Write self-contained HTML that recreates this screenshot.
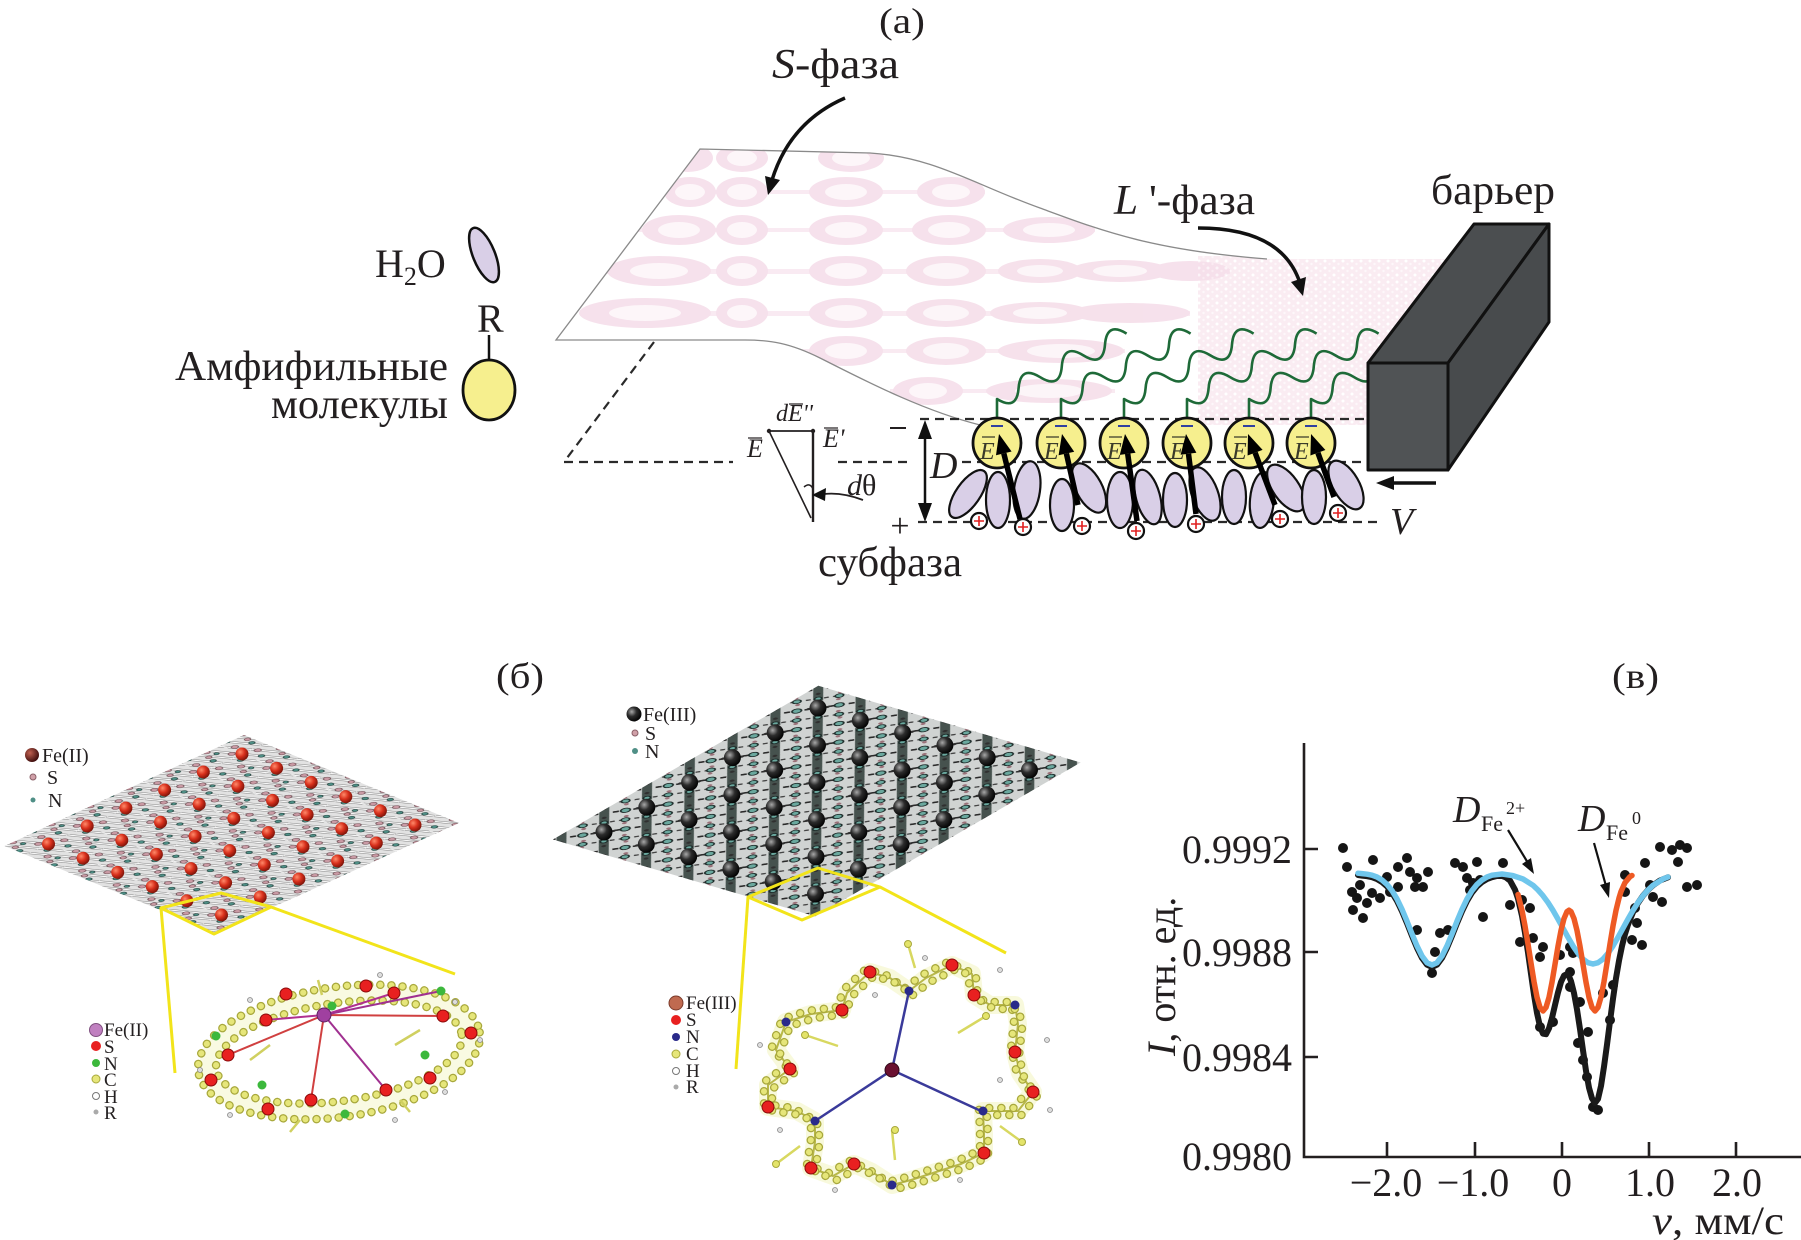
<!DOCTYPE html>
<html><head><meta charset="utf-8"><style>html,body{margin:0;padding:0;background:#fff}svg{display:block}</style></head>
<body>
<svg width="1801" height="1240" viewBox="0 0 1801 1240" xmlns="http://www.w3.org/2000/svg" font-family="'Liberation Serif','DejaVu Serif',serif" fill="#231f20">
<defs>
<radialGradient id="gb" cx="35%" cy="35%" r="70%"><stop offset="0" stop-color="#a8a8a8"/><stop offset="0.45" stop-color="#2c2c2c"/><stop offset="1" stop-color="#000"/></radialGradient>
<radialGradient id="gr" cx="35%" cy="35%" r="70%"><stop offset="0" stop-color="#ff8a6a"/><stop offset="0.5" stop-color="#d8301c"/><stop offset="1" stop-color="#7a1208"/></radialGradient>
<radialGradient id="gd" cx="35%" cy="35%" r="70%"><stop offset="0" stop-color="#c06050"/><stop offset="1" stop-color="#3a0a0a"/></radialGradient>
<clipPath id="sheetclip"><path d="M700,149 L870,153 C935,157 975,185 1040,208 C1100,230 1150,250 1267,259 L1445,259 L1445,425 L980,425 C920,410 860,378 820,358 C790,343 770,340 745,340 L556,340 Z"/></clipPath>
<pattern id="spk" width="9" height="7" patternUnits="userSpaceOnUse"><rect width="9" height="7" fill="#f6e0ea"/><circle cx="2" cy="2" r="1.5" fill="#fff"/><circle cx="6.5" cy="5" r="1.2" fill="#fcf2f6"/></pattern>
<pattern id="lp" patternUnits="userSpaceOnUse" width="100" height="100" patternTransform="matrix(0.387,-0.18,0.346,0.142,48.5,844)">
<g stroke="#8e8e8e" stroke-width="9" fill="none"><path d="M0,0 L50,100 M50,0 L100,100 M25,0 L75,100 M75,0 L100,50 M0,50 L25,100"/></g>
<g stroke="#f8f8f8" stroke-width="4.5" fill="none"><path d="M0,0 L50,100 M50,0 L100,100 M25,0 L75,100 M75,0 L100,50 M0,50 L25,100"/></g>
<g fill="#c99aa4" stroke="#6a4a50" stroke-width="2"><circle cx="30" cy="12" r="7"/><circle cx="62" cy="40" r="7"/><circle cx="12" cy="66" r="7"/><circle cx="88" cy="84" r="7"/><circle cx="50" cy="60" r="6"/></g>
<g fill="#4f8f86" stroke="#1f3f3a" stroke-width="2"><circle cx="45" cy="78" r="6"/><circle cx="80" cy="18" r="6"/><circle cx="18" cy="36" r="6"/><circle cx="70" cy="60" r="5"/></g>
</pattern>
<pattern id="mp" patternUnits="userSpaceOnUse" width="100" height="100" patternTransform="matrix(0.428,-0.248,0.423,0.124,604,832)">
<path d="M0,0 L100,100" stroke="#2a2a2a" stroke-width="6" stroke-dasharray="10 7" fill="none"/>
<path d="M0,50 L50,100 M50,0 L100,50" stroke="#444" stroke-width="5" stroke-dasharray="8 7" fill="none"/>
<polygon points="75.5,12.7 83.3,28.5 24.5,87.3 16.7,71.5" fill="#46524e"/>
<g fill="#6aa89e" stroke="#1c2a28" stroke-width="3"><circle cx="25" cy="25" r="8"/><circle cx="75" cy="75" r="8"/><circle cx="25" cy="75" r="6"/><circle cx="75" cy="25" r="6"/><circle cx="0" cy="50" r="7"/><circle cx="50" cy="0" r="7"/><circle cx="100" cy="50" r="7"/><circle cx="50" cy="100" r="7"/></g>
<g fill="#303030"><circle cx="88" cy="12" r="5"/><circle cx="12" cy="88" r="5"/><circle cx="62" cy="38" r="4"/><circle cx="38" cy="62" r="4"/><circle cx="10" cy="12" r="4"/><circle cx="90" cy="88" r="4"/></g>
<g fill="#9a7078"><circle cx="40" cy="8" r="4"/><circle cx="8" cy="40" r="4"/><circle cx="60" cy="92" r="4"/><circle cx="92" cy="60" r="4"/></g>
</pattern>
</defs>
<rect width="1801" height="1240" fill="#fff"/>

<!-- ===== Panel (a) ===== -->
<g clip-path="url(#sheetclip)">
<g opacity="0.55">
<g fill="#f5d9e7">
<rect x="640" y="190" width="345" height="4"/><rect x="630" y="228" width="465" height="4"/><rect x="600" y="269" width="630" height="5"/><rect x="580" y="311" width="610" height="5"/><rect x="800" y="349" width="325" height="4"/><rect x="890" y="389" width="225" height="4"/>
</g>
<g fill="#efc9dc">
<ellipse cx="688" cy="158" rx="25" ry="14"/><ellipse cx="742" cy="158" rx="26" ry="14"/><ellipse cx="851" cy="158" rx="33" ry="14"/>
<ellipse cx="690" cy="192" rx="26" ry="15"/><ellipse cx="742" cy="192" rx="26" ry="15"/><ellipse cx="846" cy="192" rx="37" ry="15"/><ellipse cx="951" cy="192" rx="34" ry="15"/>
<ellipse cx="679" cy="230" rx="37" ry="15"/><ellipse cx="742" cy="230" rx="26" ry="15"/><ellipse cx="846" cy="230" rx="37" ry="15"/><ellipse cx="949" cy="230" rx="37" ry="15"/><ellipse cx="1049" cy="230" rx="46" ry="13"/>
<ellipse cx="659" cy="271" rx="52" ry="15"/><ellipse cx="742" cy="271" rx="26" ry="15"/><ellipse cx="846" cy="271" rx="37" ry="15"/><ellipse cx="946" cy="271" rx="40" ry="15"/><ellipse cx="1040" cy="271" rx="42" ry="12"/><ellipse cx="1120" cy="271" rx="50" ry="11"/><ellipse cx="1190" cy="271" rx="40" ry="10"/>
<ellipse cx="645" cy="313" rx="66" ry="15"/><ellipse cx="742" cy="313" rx="26" ry="15"/><ellipse cx="846" cy="313" rx="37" ry="15"/><ellipse cx="946" cy="313" rx="40" ry="14"/><ellipse cx="1040" cy="313" rx="50" ry="11"/><ellipse cx="1130" cy="313" rx="60" ry="10"/>
<ellipse cx="846" cy="351" rx="37" ry="15"/><ellipse cx="946" cy="351" rx="40" ry="14"/><ellipse cx="1061" cy="351" rx="63" ry="12"/>
<ellipse cx="928" cy="391" rx="35" ry="14"/><ellipse cx="1049" cy="391" rx="63" ry="12"/>
</g>
<g fill="#fbeef4">
<ellipse cx="742" cy="158" rx="15" ry="8"/><ellipse cx="851" cy="158" rx="19" ry="8"/>
<ellipse cx="690" cy="192" rx="15" ry="8"/><ellipse cx="742" cy="192" rx="15" ry="8"/><ellipse cx="846" cy="192" rx="21" ry="8"/><ellipse cx="951" cy="192" rx="19" ry="8"/>
<ellipse cx="679" cy="230" rx="21" ry="8"/><ellipse cx="742" cy="230" rx="15" ry="8"/><ellipse cx="846" cy="230" rx="21" ry="8"/><ellipse cx="949" cy="230" rx="21" ry="8"/><ellipse cx="1049" cy="230" rx="26" ry="7"/>
<ellipse cx="659" cy="271" rx="29" ry="8"/><ellipse cx="742" cy="271" rx="15" ry="8"/><ellipse cx="846" cy="271" rx="21" ry="8"/><ellipse cx="946" cy="271" rx="23" ry="8"/><ellipse cx="1040" cy="271" rx="23" ry="6"/><ellipse cx="1120" cy="271" rx="27" ry="6"/>
<ellipse cx="645" cy="313" rx="36" ry="8"/><ellipse cx="742" cy="313" rx="15" ry="8"/><ellipse cx="846" cy="313" rx="21" ry="8"/><ellipse cx="946" cy="313" rx="23" ry="8"/><ellipse cx="1040" cy="313" rx="27" ry="6"/>
<ellipse cx="846" cy="351" rx="21" ry="8"/><ellipse cx="946" cy="351" rx="23" ry="8"/><ellipse cx="1061" cy="351" rx="34" ry="7"/>
<ellipse cx="928" cy="391" rx="19" ry="8"/><ellipse cx="1049" cy="391" rx="34" ry="7"/>
</g>
</g>
<rect x="1198" y="256" width="250" height="170" fill="url(#spk)" opacity="0.6"/>
</g>
<path d="M1267,259 C1150,250 1100,230 1040,208 C975,185 935,157 870,153 L700,149 L556,340 L745,340 C770,340 790,343 820,358 C860,378 920,410 980,425" fill="none" stroke="#8a8a8a" stroke-width="1.3"/>

<!-- dashed lines -->
<g stroke="#2a2a2a" stroke-width="2.2" stroke-dasharray="9 6" fill="none">
<path d="M654,342 L564,462 L733,462"/>
<path d="M838,462 L908,462"/>
<path d="M962,462 L1367,462"/>
<path d="M920,419 L1367,419"/>
<path d="M918,522 L1377,522"/>
</g>

<!-- arrows S and L -->
<path d="M845,98 Q790,122 772,180" fill="none" stroke="#111" stroke-width="3.5"/>
<polygon points="768,195 780,180 765,176" fill="#111"/>
<path d="M1198,228 Q1282,228 1300,283" fill="none" stroke="#111" stroke-width="3.5"/>
<polygon points="1303,296 1306,277 1291,282" fill="#111"/>

<!-- tails -->
<g fill="none" stroke="#1e6a38" stroke-width="2.6" stroke-linejoin="round">
<path d="M997,419 v-20 q19.8,12.3 21.6,-10.9 t21.6,-10.9 t21.6,-10.9 t21.6,-10.9 t21.6,-10.9 t21.6,-10.9"/>
<path d="M1061,419 v-20 q19.8,12.3 21.6,-10.9 t21.6,-10.9 t21.6,-10.9 t21.6,-10.9 t21.6,-10.9 t21.6,-10.9"/>
<path d="M1124,419 v-20 q19.8,12.3 21.6,-10.9 t21.6,-10.9 t21.6,-10.9 t21.6,-10.9 t21.6,-10.9 t21.6,-10.9"/>
<path d="M1187,419 v-20 q19.8,12.3 21.6,-10.9 t21.6,-10.9 t21.6,-10.9 t21.6,-10.9 t21.6,-10.9 t21.6,-10.9"/>
<path d="M1249,419 v-20 q19.8,12.3 21.6,-10.9 t21.6,-10.9 t21.6,-10.9 t21.6,-10.9 t21.6,-10.9 t21.6,-10.9"/>
<path d="M1311,419 v-20 q19.8,12.3 21.6,-10.9 t21.6,-10.9 t21.6,-10.9 t21.6,-10.9 t21.6,-10.9 t21.6,-10.9"/>
</g>

<!-- water ellipses -->
<g fill="#d9cfe7" stroke="#111" stroke-width="2.2">
<ellipse cx="968" cy="494" rx="12" ry="28" transform="rotate(35 968 494)"/>
<ellipse cx="998" cy="500" rx="12" ry="28"/>
<ellipse cx="1027" cy="490" rx="13" ry="29" transform="rotate(8 1027 490)"/>
<ellipse cx="1062" cy="505" rx="12" ry="26"/>
<ellipse cx="1089" cy="488" rx="13" ry="27" transform="rotate(-28 1089 488)"/>
<ellipse cx="1120" cy="500" rx="13" ry="28"/>
<ellipse cx="1148" cy="497" rx="12" ry="28" transform="rotate(-15 1148 497)"/>
<ellipse cx="1175" cy="500" rx="12" ry="27"/>
<ellipse cx="1205" cy="494" rx="13" ry="28" transform="rotate(-20 1205 494)"/>
<ellipse cx="1234" cy="497" rx="12" ry="27"/>
<ellipse cx="1262" cy="500" rx="12" ry="28" transform="rotate(5 1262 500)"/>
<ellipse cx="1286" cy="488" rx="13" ry="27" transform="rotate(-35 1286 488)"/>
<ellipse cx="1314" cy="497" rx="12" ry="27"/>
<ellipse cx="1346" cy="485" rx="13" ry="27" transform="rotate(-30 1346 485)"/>
</g>

<!-- heads -->
<g fill="#f6ef8e" stroke="#111" stroke-width="2.8">
<ellipse cx="997" cy="443" rx="24" ry="25"/><ellipse cx="1061" cy="443" rx="24" ry="25"/><ellipse cx="1124" cy="443" rx="24" ry="25"/><ellipse cx="1187" cy="443" rx="24" ry="25"/><ellipse cx="1249" cy="443" rx="24" ry="25"/><ellipse cx="1311" cy="443" rx="24" ry="25"/>
</g>
<g stroke="#3040a0" stroke-width="2"><path d="M991,426h12M1055,426h12M1118,426h12M1181,426h12M1243,426h12M1305,426h12"/></g>
<g font-size="24" font-style="italic" fill="#3a3a2a">
<text x="980" y="459">E</text><text x="1044" y="459">E</text><text x="1107" y="459">E</text><text x="1170" y="459">E</text><text x="1232" y="459">E</text><text x="1294" y="459">E</text>
</g>
<g stroke="#3a3a2a" stroke-width="1.3"><path d="M982,437h13M1046,437h13M1109,437h13M1172,437h13M1234,437h13M1296,437h13"/></g>

<!-- cations -->
<g fill="#fff" stroke="#111" stroke-width="2.2">
<circle cx="979" cy="521" r="8"/><circle cx="1023" cy="527" r="8"/><circle cx="1082" cy="526" r="8"/><circle cx="1136" cy="531" r="8"/><circle cx="1196" cy="524" r="8"/><circle cx="1280" cy="519" r="8"/><circle cx="1338" cy="513" r="8"/>
</g>
<g stroke="#e02020" stroke-width="1.6">
<path d="M974,521h10M979,516v10M1018,527h10M1023,522v10M1077,526h10M1082,521v10M1131,531h10M1136,526v10M1191,524h10M1196,519v10M1275,519h10M1280,514v10M1333,513h10M1338,508v10"/>
</g>

<!-- dipole arrows -->
<g stroke="#000" stroke-width="5.5" stroke-linecap="butt">
<line x1="1020" y1="519" x2="1003.8" y2="453.4"/>
<line x1="1078" y1="505" x2="1066.4" y2="453.5"/>
<line x1="1137" y1="521" x2="1127.7" y2="453.8"/>
<line x1="1196" y1="514" x2="1188.5" y2="453.8"/>
<line x1="1275" y1="505" x2="1255.1" y2="452.7"/>
<line x1="1334" y1="497" x2="1317.9" y2="452.8"/>
</g>
<g fill="#000">
<polygon points="999,434 1011.6,451.5 996,455.3"/>
<polygon points="1062,434 1074.2,451.7 1058.6,455.3"/>
<polygon points="1125,434 1135.6,452.7 1119.8,454.9"/>
<polygon points="1186,434 1196.4,452.8 1180.6,454.8"/>
<polygon points="1248,434 1262.6,449.9 1247.6,455.5"/>
<polygon points="1311,434 1325.4,450 1310.4,455.5"/>
</g>

<!-- barrier -->
<g fill="#4e5153" stroke="#111" stroke-width="3" stroke-linejoin="round">
<path d="M1368,363 L1474,224 L1549,224 L1448,363 Z" fill="#4b4e50"/>
<path d="M1448,363 L1549,224 L1549,322 L1448,470 Z" fill="#484b4d"/>
<path d="M1368,363 L1448,363 L1448,470 L1368,470 Z" fill="#505355"/>
</g>

<!-- V arrow -->
<line x1="1436" y1="483" x2="1392" y2="483" stroke="#111" stroke-width="3.5"/>
<polygon points="1376,483 1394,476 1394,490" fill="#111"/>

<!-- D arrow -->
<line x1="925" y1="436" x2="925" y2="505" stroke="#111" stroke-width="2.5"/>
<polygon points="925,420 918,439 932,439" fill="#111"/>
<polygon points="925,522 918,503 932,503" fill="#111"/>
<line x1="890" y1="428" x2="906" y2="428" stroke="#231f20" stroke-width="2"/>

<!-- triangle -->
<g stroke="#231f20" fill="none">
<line x1="769" y1="431" x2="813" y2="431" stroke-width="1.8"/>
<line x1="813" y1="431" x2="813" y2="522" stroke-width="2.4"/>
<line x1="769" y1="431" x2="811" y2="518" stroke-width="1.6"/>
<path d="M804,487 Q810,482 813,489" stroke-width="1.5"/>
<path d="M863,500 Q842,492 824,494" stroke-width="1.8"/>
<line x1="789" y1="404" x2="803" y2="404" stroke-width="1.2"/>
<line x1="824" y1="428" x2="838" y2="428" stroke-width="1.2"/>
<line x1="748" y1="438" x2="762" y2="438" stroke-width="1.2"/>
</g>
<circle cx="769" cy="431" r="2.2"/><circle cx="813" cy="431" r="2.2"/>
<polygon points="812,495 826,488 825,501" fill="#111"/>

<!-- texts (a) -->
<text x="879" y="33" font-size="36" textLength="46" lengthAdjust="spacingAndGlyphs">(а)</text>
<text x="772" y="78" font-size="42" textLength="127" lengthAdjust="spacingAndGlyphs"><tspan font-style="italic">S</tspan>-фаза</text>
<text x="1114" y="214" font-size="42" textLength="141" lengthAdjust="spacingAndGlyphs"><tspan font-style="italic">L</tspan> '-фаза</text>
<text x="1431" y="204" font-size="42" textLength="124" lengthAdjust="spacingAndGlyphs">барьер</text>
<text x="375" y="277" font-size="40">H<tspan font-size="26" dy="8">2</tspan><tspan dy="-8">O</tspan></text>
<ellipse cx="484" cy="255" rx="11" ry="29" fill="#d9cfe7" stroke="#111" stroke-width="2.5" transform="rotate(-22 484 255)"/>
<text x="477" y="332" font-size="40">R</text>
<line x1="489" y1="335" x2="489" y2="361" stroke="#111" stroke-width="2.5"/>
<ellipse cx="489" cy="390" rx="26" ry="30" fill="#f6ef8e" stroke="#111" stroke-width="2.8"/>
<text x="448" y="380" font-size="42" text-anchor="end" textLength="273" lengthAdjust="spacingAndGlyphs">Амфифильные</text>
<text x="448" y="418" font-size="42" text-anchor="end" textLength="177" lengthAdjust="spacingAndGlyphs">молекулы</text>
<text x="818" y="576" font-size="42" textLength="144" lengthAdjust="spacingAndGlyphs">субфаза</text>
<text x="930" y="478" font-size="38" font-style="italic">D</text>
<text x="1390" y="534" font-size="38" font-style="italic">V</text>
<text x="900" y="537" font-size="34" text-anchor="middle">+</text>
<text x="776" y="421" font-size="24" font-style="italic">dE''</text>
<text x="823" y="447" font-size="26" font-style="italic">E'</text>
<text x="747" y="457" font-size="26" font-style="italic">E</text>
<text x="847" y="495" font-size="30"><tspan font-style="italic">d</tspan>θ</text>

<!-- ===== Panel (б) ===== -->
<text x="496" y="688" font-size="36" textLength="48" lengthAdjust="spacingAndGlyphs">(б)</text>

<!-- left lattice -->
<polygon points="4.5,846 244,735 459,823 216,933" fill="#e2e2e2"/>
<polygon points="4.5,846 244,735 459,823 216,933" fill="url(#lp)"/>
<g fill="url(#gr)">
<circle cx="48.5" cy="844" r="6.5"/><circle cx="87.2" cy="826" r="6.5"/><circle cx="125.9" cy="808" r="6.5"/><circle cx="164.6" cy="790" r="6.5"/><circle cx="203.3" cy="772" r="6.5"/><circle cx="242" cy="754" r="6.5"/>
<circle cx="83.1" cy="858.2" r="6.5"/><circle cx="121.8" cy="840.2" r="6.5"/><circle cx="160.5" cy="822.2" r="6.5"/><circle cx="199.2" cy="804.2" r="6.5"/><circle cx="237.9" cy="786.2" r="6.5"/><circle cx="276.6" cy="768.2" r="6.5"/>
<circle cx="117.7" cy="872.4" r="6.5"/><circle cx="156.4" cy="854.4" r="6.5"/><circle cx="195.1" cy="836.4" r="6.5"/><circle cx="233.8" cy="818.4" r="6.5"/><circle cx="272.5" cy="800.4" r="6.5"/><circle cx="311.2" cy="782.4" r="6.5"/>
<circle cx="152.3" cy="886.6" r="6.5"/><circle cx="191" cy="868.6" r="6.5"/><circle cx="229.7" cy="850.6" r="6.5"/><circle cx="268.4" cy="832.6" r="6.5"/><circle cx="307.1" cy="814.6" r="6.5"/><circle cx="345.8" cy="796.6" r="6.5"/>
<circle cx="186.9" cy="900.8" r="6.5"/><circle cx="225.6" cy="882.8" r="6.5"/><circle cx="264.3" cy="864.8" r="6.5"/><circle cx="303" cy="846.8" r="6.5"/><circle cx="341.7" cy="828.8" r="6.5"/><circle cx="380.4" cy="810.8" r="6.5"/>
<circle cx="221.5" cy="915" r="6.5"/><circle cx="260.2" cy="897" r="6.5"/><circle cx="298.9" cy="879" r="6.5"/><circle cx="337.6" cy="861" r="6.5"/><circle cx="376.3" cy="843" r="6.5"/><circle cx="415" cy="825" r="6.5"/>
</g>
<circle cx="32" cy="755" r="7" fill="url(#gd)"/>
<text x="42" y="762" font-size="20">Fe(II)</text>
<circle cx="33" cy="777" r="3" fill="#d0a0a8" stroke="#8a6068"/>
<text x="47" y="784" font-size="20">S</text>
<circle cx="33" cy="800" r="2.5" fill="#4f8f86"/>
<text x="48" y="807" font-size="20">N</text>

<!-- left yellow zoom -->
<g stroke="#f2e41a" stroke-width="3" fill="none" stroke-linejoin="round">
<polygon points="161,908 221,893 271,907 214,934"/>
<line x1="161" y1="908" x2="175" y2="1073"/>
<line x1="271" y1="907" x2="455" y2="974"/>
</g>

<!-- left ring -->
<g transform="rotate(-8 339 1052)" fill="none">
<ellipse cx="339" cy="1052" rx="133" ry="57" stroke="#e9ea8a" stroke-width="16" opacity="0.25"/>
<ellipse cx="339" cy="1052" rx="124" ry="49" stroke="#a8a83c" stroke-width="8.5" stroke-dasharray="0.1 11" stroke-linecap="round"/>
<ellipse cx="339" cy="1052" rx="124" ry="49" stroke="#e6e67a" stroke-width="6" stroke-dasharray="0.1 11" stroke-linecap="round"/>
<ellipse cx="339" cy="1052" rx="142" ry="65" stroke="#a8a83c" stroke-width="8.5" stroke-dasharray="0.1 11" stroke-linecap="round"/>
<ellipse cx="339" cy="1052" rx="142" ry="65" stroke="#e6e67a" stroke-width="6" stroke-dasharray="0.1 11" stroke-linecap="round"/>
</g>
<g stroke-width="2" fill="none">
<line x1="324" y1="1015" x2="266" y2="1020" stroke="#b03090"/>
<line x1="324" y1="1015" x2="228" y2="1055" stroke="#d04040"/>
<line x1="324" y1="1015" x2="311" y2="1100" stroke="#d04040"/>
<line x1="324" y1="1015" x2="386" y2="1090" stroke="#a03090"/>
<line x1="324" y1="1015" x2="443" y2="1016" stroke="#d04040"/>
<line x1="324" y1="1015" x2="394" y2="993" stroke="#b03090"/>
<line x1="324" y1="1015" x2="441" y2="991" stroke="#a03090"/>
<line x1="324" y1="1015" x2="332" y2="1006" stroke="#a03090"/>
</g>
<g stroke="#d0d060" stroke-width="2.5"><path d="M270,1045 L250,1060 M420,1030 L395,1045 M318,980 L322,995 M300,1120 L290,1132 M400,1100 L410,1112"/></g>
<g fill="#e82020" stroke="#8a0a0a" stroke-width="1">
<circle cx="286" cy="994" r="6"/><circle cx="366" cy="986" r="6"/><circle cx="394" cy="993" r="6"/><circle cx="443" cy="1016" r="6"/><circle cx="471" cy="1033" r="6"/><circle cx="266" cy="1020" r="6"/><circle cx="228" cy="1055" r="6"/><circle cx="211" cy="1080" r="6"/><circle cx="430" cy="1078" r="6"/><circle cx="386" cy="1090" r="6"/><circle cx="311" cy="1100" r="6"/><circle cx="268" cy="1109" r="6"/>
</g>
<g fill="#3cb83c"><circle cx="332" cy="1006" r="4.5"/><circle cx="441" cy="991" r="4.5"/><circle cx="216" cy="1036" r="4.5"/><circle cx="425" cy="1055" r="4.5"/><circle cx="262" cy="1085" r="4.5"/><circle cx="345" cy="1114" r="4.5"/></g>
<g fill="#ddd" stroke="#888" stroke-width="0.8"><circle cx="200" cy="1070" r="2.5"/><circle cx="480" cy="1040" r="2.5"/><circle cx="455" cy="1002" r="2.5"/><circle cx="250" cy="1000" r="2.5"/><circle cx="230" cy="1115" r="2.5"/><circle cx="395" cy="1120" r="2.5"/><circle cx="445" cy="1092" r="2.5"/><circle cx="380" cy="975" r="2.5"/></g>
<circle cx="324" cy="1015" r="7" fill="#a040a0" stroke="#602060"/>
<!-- inner legend left -->
<circle cx="96" cy="1030" r="6.5" fill="#c080c0" stroke="#805080"/>
<text x="104" y="1036" font-size="19">Fe(II)</text>
<circle cx="96" cy="1046" r="5" fill="#e82020"/><text x="104" y="1053" font-size="19">S</text>
<circle cx="96" cy="1063" r="4" fill="#3cb83c"/><text x="104" y="1070" font-size="19">N</text>
<circle cx="96" cy="1079" r="4" fill="#e6e67a" stroke="#a8a83c"/><text x="104" y="1086" font-size="19">C</text>
<circle cx="96" cy="1096" r="3.5" fill="#fff" stroke="#777"/><text x="104" y="1103" font-size="19">H</text>
<circle cx="96" cy="1112" r="2.5" fill="#aaa"/><text x="104" y="1119" font-size="19">R</text>

<!-- middle lattice -->
<polygon points="552.9,839.5 818.3,685.7 1080.6,762.5 815.2,916.3" fill="#d0d3d2"/>
<polygon points="552.9,839.5 818.3,685.7 1080.6,762.5 815.2,916.3" fill="url(#mp)"/>
<g fill="url(#gb)">
<circle cx="604" cy="832" r="8.5"/><circle cx="646.8" cy="807.2" r="8.5"/><circle cx="689.6" cy="782.4" r="8.5"/><circle cx="732.4" cy="757.6" r="8.5"/><circle cx="775.2" cy="732.8" r="8.5"/><circle cx="818" cy="708" r="8.5"/>
<circle cx="646.3" cy="844.4" r="8.5"/><circle cx="689.1" cy="819.6" r="8.5"/><circle cx="731.9" cy="794.8" r="8.5"/><circle cx="774.7" cy="770" r="8.5"/><circle cx="817.5" cy="745.2" r="8.5"/><circle cx="860.3" cy="720.4" r="8.5"/>
<circle cx="688.6" cy="856.8" r="8.5"/><circle cx="731.4" cy="832" r="8.5"/><circle cx="774.2" cy="807.2" r="8.5"/><circle cx="817" cy="782.4" r="8.5"/><circle cx="859.8" cy="757.6" r="8.5"/><circle cx="902.6" cy="732.8" r="8.5"/>
<circle cx="730.9" cy="869.2" r="8.5"/><circle cx="773.7" cy="844.4" r="8.5"/><circle cx="816.5" cy="819.6" r="8.5"/><circle cx="859.3" cy="794.8" r="8.5"/><circle cx="902.1" cy="770" r="8.5"/><circle cx="944.9" cy="745.2" r="8.5"/>
<circle cx="773.2" cy="881.6" r="8.5"/><circle cx="816" cy="856.8" r="8.5"/><circle cx="858.8" cy="832" r="8.5"/><circle cx="901.6" cy="807.2" r="8.5"/><circle cx="944.4" cy="782.4" r="8.5"/><circle cx="987.2" cy="757.6" r="8.5"/>
<circle cx="815.5" cy="894" r="8.5"/><circle cx="858.3" cy="869.2" r="8.5"/><circle cx="901.1" cy="844.4" r="8.5"/><circle cx="943.9" cy="819.6" r="8.5"/><circle cx="986.7" cy="794.8" r="8.5"/><circle cx="1029.5" cy="770" r="8.5"/>
</g>
<circle cx="634" cy="714" r="7.5" fill="url(#gb)"/>
<text x="643" y="721" font-size="20">Fe(III)</text>
<circle cx="635" cy="733" r="3" fill="#d0a0a8" stroke="#8a6068"/>
<text x="645" y="740" font-size="20">S</text>
<circle cx="635" cy="751" r="3" fill="#4f8f86"/>
<text x="645" y="758" font-size="20">N</text>

<!-- middle yellow zoom -->
<g stroke="#f2e41a" stroke-width="3" fill="none" stroke-linejoin="round">
<polygon points="748,897 818,868 880,887 802,920"/>
<line x1="748" y1="897" x2="736" y2="1069"/>
<line x1="880" y1="887" x2="1006" y2="953"/>
</g>

<!-- middle ring -->
<g fill="none" stroke-linejoin="round">
<path d="M909,991 L926,978 L952,965 L972,974 L974,995 L990,1005 L1015,1005 L1018,1024 L1015,1052 L1020,1073 L1033,1092 L1018,1111 L983,1111 L984,1134 L984,1153 L961,1164 L936,1172 L911,1180 L892,1185 L872,1172 L854,1164 L833,1176 L811,1168 L815,1142 L815,1121 L797,1111 L768,1107 L768,1085 L790,1069 L776,1050 L786,1022 L811,1014 L842,1010 L847,993 L870,972 L890,978 Z" stroke="#e9ea8a" stroke-width="18" opacity="0.3"/>
<path d="M909,991 L926,978 L952,965 L972,974 L974,995 L990,1005 L1015,1005 L1018,1024 L1015,1052 L1020,1073 L1033,1092 L1018,1111 L983,1111 L984,1134 L984,1153 L961,1164 L936,1172 L911,1180 L892,1185 L872,1172 L854,1164 L833,1176 L811,1168 L815,1142 L815,1121 L797,1111 L768,1107 L768,1085 L790,1069 L776,1050 L786,1022 L811,1014 L842,1010 L847,993 L870,972 L890,978 Z" stroke="#b8b848" stroke-width="2"/>
<g transform="translate(-4,-3)"><path d="M909,991 L926,978 L952,965 L972,974 L974,995 L990,1005 L1015,1005 L1018,1024 L1015,1052 L1020,1073 L1033,1092 L1018,1111 L983,1111 L984,1134 L984,1153 L961,1164 L936,1172 L911,1180 L892,1185 L872,1172 L854,1164 L833,1176 L811,1168 L815,1142 L815,1121 L797,1111 L768,1107 L768,1085 L790,1069 L776,1050 L786,1022 L811,1014 L842,1010 L847,993 L870,972 L890,978 Z" stroke="#a8a83c" stroke-width="8.5" stroke-dasharray="0.1 12" stroke-linecap="round"/><path d="M909,991 L926,978 L952,965 L972,974 L974,995 L990,1005 L1015,1005 L1018,1024 L1015,1052 L1020,1073 L1033,1092 L1018,1111 L983,1111 L984,1134 L984,1153 L961,1164 L936,1172 L911,1180 L892,1185 L872,1172 L854,1164 L833,1176 L811,1168 L815,1142 L815,1121 L797,1111 L768,1107 L768,1085 L790,1069 L776,1050 L786,1022 L811,1014 L842,1010 L847,993 L870,972 L890,978 Z" stroke="#e6e67a" stroke-width="6" stroke-dasharray="0.1 12" stroke-linecap="round"/></g>
<g transform="translate(4,4)"><path d="M909,991 L926,978 L952,965 L972,974 L974,995 L990,1005 L1015,1005 L1018,1024 L1015,1052 L1020,1073 L1033,1092 L1018,1111 L983,1111 L984,1134 L984,1153 L961,1164 L936,1172 L911,1180 L892,1185 L872,1172 L854,1164 L833,1176 L811,1168 L815,1142 L815,1121 L797,1111 L768,1107 L768,1085 L790,1069 L776,1050 L786,1022 L811,1014 L842,1010 L847,993 L870,972 L890,978 Z" stroke="#a8a83c" stroke-width="8.5" stroke-dasharray="0.1 12" stroke-linecap="round"/><path d="M909,991 L926,978 L952,965 L972,974 L974,995 L990,1005 L1015,1005 L1018,1024 L1015,1052 L1020,1073 L1033,1092 L1018,1111 L983,1111 L984,1134 L984,1153 L961,1164 L936,1172 L911,1180 L892,1185 L872,1172 L854,1164 L833,1176 L811,1168 L815,1142 L815,1121 L797,1111 L768,1107 L768,1085 L790,1069 L776,1050 L786,1022 L811,1014 L842,1010 L847,993 L870,972 L890,978 Z" stroke="#e6e67a" stroke-width="6" stroke-dasharray="0.1 12" stroke-linecap="round"/></g>
</g>
<g stroke="#d8d860" stroke-width="2.5"><path d="M908,944 L915,968 M986,1016 L958,1033 M776,1164 L800,1146 M1022,1142 L1000,1126 M892,1130 L895,1160 M805,1035 L838,1046"/></g>
<g fill="#e4e46a" stroke="#a8a83c"><circle cx="908" cy="944" r="3.5"/><circle cx="986" cy="1016" r="3.5"/><circle cx="776" cy="1164" r="3.5"/><circle cx="1022" cy="1142" r="3.5"/><circle cx="895" cy="1130" r="3.5"/><circle cx="805" cy="1035" r="3.5"/></g>
<g stroke="#3a3a9a" stroke-width="2.5"><line x1="892" y1="1070" x2="909" y2="991"/><line x1="892" y1="1070" x2="815" y2="1121"/><line x1="892" y1="1070" x2="981" y2="1111"/></g>
<g fill="#e82020" stroke="#8a0a0a" stroke-width="1">
<circle cx="870" cy="972" r="6"/><circle cx="952" cy="965" r="6"/><circle cx="974" cy="995" r="6"/><circle cx="842" cy="1010" r="6"/><circle cx="790" cy="1069" r="6"/><circle cx="768" cy="1107" r="6"/><circle cx="1015" cy="1052" r="6"/><circle cx="1033" cy="1092" r="6"/><circle cx="984" cy="1153" r="6"/><circle cx="854" cy="1164" r="6"/><circle cx="811" cy="1168" r="6"/>
</g>
<g fill="#2a2a8a"><circle cx="909" cy="991" r="4.5"/><circle cx="815" cy="1121" r="4.5"/><circle cx="983" cy="1111" r="4.5"/><circle cx="786" cy="1022" r="4.5"/><circle cx="1015" cy="1005" r="4.5"/><circle cx="892" cy="1185" r="4.5"/></g>
<g fill="#ddd" stroke="#888" stroke-width="0.8"><circle cx="925" cy="958" r="2.5"/><circle cx="1000" cy="970" r="2.5"/><circle cx="1047" cy="1040" r="2.5"/><circle cx="1050" cy="1110" r="2.5"/><circle cx="780" cy="1130" r="2.5"/><circle cx="760" cy="1045" r="2.5"/><circle cx="835" cy="1190" r="2.5"/><circle cx="960" cy="1180" r="2.5"/><circle cx="875" cy="995" r="2.5"/><circle cx="1000" cy="1080" r="2.5"/></g>
<circle cx="892" cy="1070" r="7" fill="#6a1030" stroke="#300818"/>
<!-- inner legend middle -->
<circle cx="676" cy="1003" r="7" fill="#c06a50" stroke="#7a3a2a"/>
<text x="686" y="1009" font-size="19">Fe(III)</text>
<circle cx="676" cy="1020" r="5" fill="#e82020"/><text x="686" y="1026" font-size="19">S</text>
<circle cx="676" cy="1037" r="4" fill="#2a2a8a"/><text x="686" y="1043" font-size="19">N</text>
<circle cx="676" cy="1054" r="4" fill="#e6e67a" stroke="#a8a83c"/><text x="686" y="1060" font-size="19">C</text>
<circle cx="676" cy="1071" r="3.5" fill="#fff" stroke="#777"/><text x="686" y="1077" font-size="19">H</text>
<circle cx="676" cy="1087" r="2.5" fill="#aaa"/><text x="686" y="1093" font-size="19">R</text>

<!-- ===== Panel (в) graph ===== -->
<text x="1612" y="688" font-size="36" textLength="47" lengthAdjust="spacingAndGlyphs">(в)</text>
<g stroke="#231f20" stroke-width="2.6" fill="none">
<path d="M1304,743 L1304,1157 L1801,1157"/>
<path d="M1304,849 h14 M1304,952 h14 M1304,1057 h14"/>
<path d="M1387,1157 v-15 M1475,1157 v-15 M1562,1157 v-15 M1649,1157 v-15 M1736,1157 v-15"/>
</g>
<g font-size="40" text-anchor="end">
<text x="1292" y="863">0.9992</text><text x="1292" y="966">0.9988</text><text x="1292" y="1071">0.9984</text><text x="1292" y="1170">0.9980</text>
</g>
<g font-size="40" text-anchor="middle">
<text x="1386" y="1196">−2.0</text><text x="1473" y="1196">−1.0</text><text x="1562" y="1196">0</text><text x="1650" y="1196">1.0</text><text x="1737" y="1196">2.0</text>
</g>
<text x="1652" y="1234" font-size="40" textLength="132" lengthAdjust="spacingAndGlyphs"><tspan font-style="italic">v</tspan>, мм/с</text>
<text transform="translate(1175,1056) rotate(-90)" font-size="40"><tspan font-style="italic">I</tspan>, отн. ед.</text>

<!-- data points -->
<g fill="#151515">
<circle cx="1343" cy="848" r="5"/><circle cx="1373" cy="860" r="5"/><circle cx="1347" cy="867" r="5"/><circle cx="1360" cy="885" r="5"/><circle cx="1352" cy="892" r="5"/><circle cx="1357" cy="898" r="5"/><circle cx="1372" cy="893" r="5"/><circle cx="1380" cy="898" r="5"/><circle cx="1367" cy="903" r="5"/><circle cx="1353" cy="910" r="5"/><circle cx="1363" cy="918" r="5"/><circle cx="1387" cy="877" r="5"/><circle cx="1398" cy="867" r="5"/><circle cx="1407" cy="858" r="5"/><circle cx="1410" cy="872" r="5"/><circle cx="1417" cy="878" r="5"/><circle cx="1428" cy="872" r="5"/><circle cx="1398" cy="887" r="5"/><circle cx="1415" cy="887" r="5"/><circle cx="1423" cy="887" r="5"/><circle cx="1390" cy="892" r="5"/><circle cx="1417" cy="930" r="5"/><circle cx="1440" cy="933" r="5"/><circle cx="1448" cy="930" r="5"/><circle cx="1435" cy="952" r="5"/><circle cx="1432" cy="973" r="5"/><circle cx="1483" cy="917" r="5"/><circle cx="1455" cy="863" r="5"/><circle cx="1463" cy="867" r="5"/><circle cx="1477" cy="862" r="5"/><circle cx="1467" cy="878" r="5"/><circle cx="1473" cy="883" r="5"/><circle cx="1470" cy="890" r="5"/><circle cx="1503" cy="863" r="5"/><circle cx="1480" cy="880" r="5"/><circle cx="1510" cy="905" r="5"/><circle cx="1522" cy="900" r="5"/><circle cx="1530" cy="908" r="5"/><circle cx="1520" cy="942" r="5"/><circle cx="1533" cy="938" r="5"/><circle cx="1543" cy="947" r="5"/><circle cx="1540" cy="957" r="5"/><circle cx="1540" cy="1027" r="5"/><circle cx="1553" cy="1022" r="5"/><circle cx="1570" cy="947" r="5"/><circle cx="1573" cy="953" r="5"/><circle cx="1560" cy="955" r="5"/><circle cx="1570" cy="987" r="5"/><circle cx="1580" cy="1002" r="5"/><circle cx="1578" cy="1043" r="5"/><circle cx="1588" cy="1032" r="5"/><circle cx="1583" cy="1060" r="5"/><circle cx="1587" cy="1077" r="5"/><circle cx="1598" cy="1110" r="5"/><circle cx="1593" cy="1107" r="5"/><circle cx="1603" cy="993" r="5"/><circle cx="1613" cy="985" r="5"/><circle cx="1610" cy="1020" r="5"/><circle cx="1637" cy="923" r="5"/><circle cx="1632" cy="940" r="5"/><circle cx="1642" cy="945" r="5"/><circle cx="1645" cy="863" r="5"/><circle cx="1660" cy="847" r="5"/><circle cx="1672" cy="850" r="5"/><circle cx="1680" cy="845" r="5"/><circle cx="1687" cy="848" r="5"/><circle cx="1678" cy="862" r="5"/><circle cx="1687" cy="887" r="5"/><circle cx="1697" cy="885" r="5"/><circle cx="1653" cy="897" r="5"/><circle cx="1662" cy="902" r="5"/><circle cx="1650" cy="885" r="5"/><circle cx="1625" cy="875" r="5"/><circle cx="1625" cy="892" r="5"/><circle cx="1635" cy="908" r="5"/><circle cx="1570" cy="972" r="5"/>
</g>

<!-- curves -->
<polyline fill="none" stroke="#1a1a1a" stroke-width="6" stroke-linejoin="round" stroke-linecap="round" points="1358,875 1362,875.6 1367,876.2 1372,877.2 1377,879 1382,882 1387,886.4 1392,892.6 1397,900.9 1402,911.3 1407,923.2 1412,935.9 1417,947.9 1422,958 1427,964.7 1432,967 1437,964.7 1442,958 1447,947.9 1452,935.9 1457,923.2 1462,911.3 1467,900.9 1472,892.6 1477,886.4 1482,882 1487,879 1492,877.2 1497,876 1502,876 1506,877.5 1510,880.6 1515,889.7 1518,898.7 1522,916 1525,932.9 1528,952.6 1531,973.8 1534,994.8 1537,1013 1540,1026.5 1543,1033.7 1546,1034.2 1549,1028.4 1552,1018 1555,1005.1 1558,992.4 1561,982 1564,975.6 1567,974.1 1569,976.3 1571,981.1 1574,993.1 1577,1009.5 1580,1029.1 1583,1050.4 1586,1070.8 1589,1087.7 1592,1098.4 1595,1103 1598,1099 1601,1086 1604,1066.7 1607,1044.7 1610,1021.4 1613,998.8 1616,978.2 1619,960.7 1622,946 1625,934.1 1628,924.6 1633,912.3 1638,903 1643,895.7 1648,890 1653,885.3 1660,880.5 1668,877.3"/>
<polyline fill="none" stroke="#6fc6ec" stroke-width="5.5" stroke-linejoin="round" stroke-linecap="round" points="1358,873.2 1362,873.6 1367,874.2 1372,875.2 1377,877 1382,880 1387,884.4 1392,890.6 1397,898.9 1402,909.3 1407,921.2 1412,933.9 1417,945.9 1422,956 1427,962.7 1432,965 1437,962.7 1442,956 1447,945.9 1452,933.9 1457,921.2 1462,909.3 1467,898.9 1472,890.6 1477,884.4 1482,880 1487,877 1492,875.2 1502,874 1513,875.6 1523,879 1533,885.3 1538,890 1543,895.7 1548,902.5 1553,910.4 1558,919.1 1563,928.2 1568,937.3 1573,945.9 1578,953.3 1583,959.1 1588,962.7 1593,964 1598,962.7 1603,959.1 1608,953.3 1613,945.9 1618,937.3 1623,928.2 1628,919.1 1633,910.4 1638,902.5 1643,895.7 1648,890 1653,885.3 1663,879 1668,877"/>
<polyline fill="none" stroke="#ee5a24" stroke-width="5.5" stroke-linejoin="round" stroke-linecap="round" points="1518,894.5 1522,910.4 1525,925.9 1528,943.9 1531,963.1 1534,981.6 1537,997.1 1540,1007.4 1543,1011 1546,1007.4 1549,997.4 1552,982.2 1555,964.3 1558,946.3 1561,930.5 1564,918.6 1567,911.6 1569,910.2 1571,911.6 1574,918.6 1577,930.5 1580,946.3 1583,964.3 1586,982.2 1589,997.4 1592,1007.4 1595,1011 1598,1007.4 1601,997.1 1604,981.6 1607,963.1 1610,943.9 1613,925.9 1616,910.4 1619,898.1 1621,891.6 1625,882.6 1630,876.7 1632,875.5"/>

<!-- curve labels -->
<text x="1453" y="822" font-size="38" font-style="italic">D</text>
<text x="1481" y="831" font-size="22">Fe</text>
<text x="1506" y="814" font-size="18">2+</text>
<line x1="1508" y1="830" x2="1528" y2="863" stroke="#111" stroke-width="2.2"/>
<polygon points="1534,874 1531,858 1522,864" fill="#111"/>
<text x="1578" y="831" font-size="38" font-style="italic">D</text>
<text x="1606" y="840" font-size="22">Fe</text>
<text x="1632" y="824" font-size="18">0</text>
<line x1="1594" y1="843" x2="1606" y2="886" stroke="#111" stroke-width="2.2"/>
<polygon points="1609,898 1610,882 1600,885" fill="#111"/>
</svg>
</body></html>
